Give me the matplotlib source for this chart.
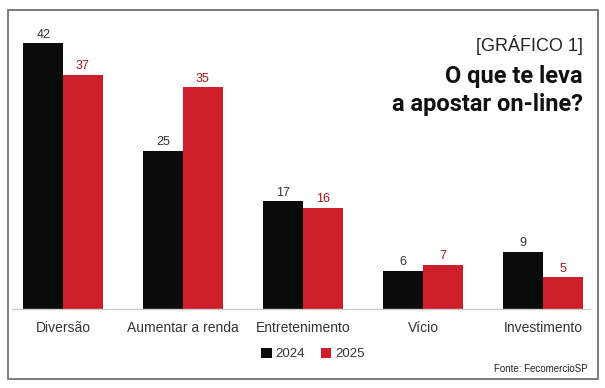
import matplotlib
matplotlib.use("Agg")
import matplotlib.pyplot as plt
import numpy as np
from matplotlib.patches import Rectangle

categories = ["Diversão", "Aumentar a renda", "Entretenimento", "Vício", "Investimento"]
values_2024 = [42, 25, 17, 6, 9]
values_2025 = [37, 35, 16, 7, 5]
series_names = ["2024", "2025"]

BLACK = "#0b0b0b"
RED = "#cc1f29"
GREY = "#333333"
FONT = ["Liberation Sans", "DejaVu Sans"]
TITLE_FONT = ["Roboto", "Liberation Sans", "DejaVu Sans"]

W, H = 605, 388
fig = plt.figure(figsize=(W / 100, H / 100), dpi=100)

# moldura
fig.patches.append(Rectangle((8 / W, 1 - 379 / H), 590 / W, 369 / H, transform=fig.transFigure,
                             fill=False, edgecolor="#666666", linewidth=1.2))

ax = fig.add_axes([12 / W, 1 - 309 / H, 578 / W, 299 / H])
x = np.arange(len(categories))
bw = 0.33
b1 = ax.bar(x - bw / 2, values_2024, bw, color=BLACK, label=series_names[0])
b2 = ax.bar(x + bw / 2, values_2025, bw, color=RED, label=series_names[1])

for rect, v in zip(b1, values_2024):
    ax.text(rect.get_x() + rect.get_width() / 2, v + 0.4, str(v), ha="center", va="bottom",
            fontsize=9, color=GREY, family=FONT)
for rect, v in zip(b2, values_2025):
    ax.text(rect.get_x() + rect.get_width() / 2, v + 0.4, str(v), ha="center", va="bottom",
            fontsize=9, color="#a8141e", family=FONT)

ax.set_xlim(-51 / 120, 527 / 120)
ax.set_ylim(0, 299 / 6.33)
ax.set_xticks(x)
ax.set_xticklabels(categories, fontsize=10, color=GREY, family=FONT)
ax.tick_params(axis="x", length=0, pad=9)
ax.set_yticks([])
for s in ["top", "right", "left"]:
    ax.spines[s].set_visible(False)
ax.spines["bottom"].set_color("#cccccc")
ax.spines["bottom"].set_linewidth(1)

# titulo
fig.text(583 / W, 1 - 45 / H, "[GRÁFICO 1]", ha="right", va="center", fontsize=13,
         color="#222222", family=FONT)
fig.text(583 / W, 1 - 76 / H, "O que te leva", ha="right", va="center", fontsize=17,
         fontweight="bold", color="#111111", family=TITLE_FONT)
fig.text(583 / W, 1 - 105 / H, "a apostar on-line?", ha="right", va="center", fontsize=17,
         fontweight="bold", color="#111111", family=TITLE_FONT)

# legenda
leg = fig.legend(handles=[b1, b2], labels=series_names, loc="center",
                 bbox_to_anchor=(313 / W, 1 - 354 / H), ncol=2, frameon=False,
                 handlelength=0.8, handleheight=0.8, handletextpad=0.3, columnspacing=1.2,
                 prop={"family": FONT, "size": 9.5})
for t in leg.get_texts():
    t.set_color(GREY)

fig.text(588 / W, 1 - 369 / H, "Fonte: FecomercioSP", ha="right", va="center", fontsize=7,
         color="#222222", family=FONT)

fig.savefig("out.png", dpi=100)
